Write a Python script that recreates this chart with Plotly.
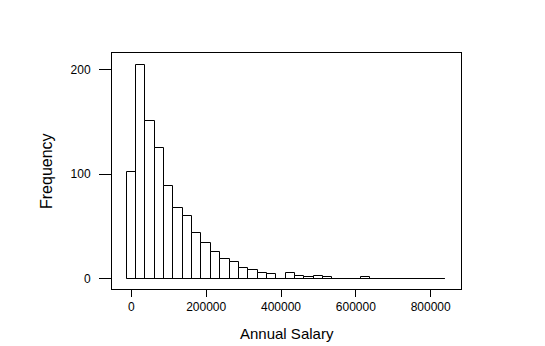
import plotly.graph_objects as go

# Histogram of annual salaries: bins of width 25000 centred on multiples of 25000
bin_width = 25000
bin_centers = [i * bin_width for i in range(34)]
counts = [102, 205, 151, 125, 89, 68, 60, 44, 34, 25,
          19, 16, 10, 8, 5, 4, 0, 5, 2, 1,
          2, 1, 0, 0, 0, 1, 0, 0, 0, 0,
          0, 0, 0, 0]
bin_edges = [c - bin_width / 2 for c in bin_centers] + [bin_centers[-1] + bin_width / 2]

x_tickvals = [0, 200000, 400000, 600000, 800000]
y_tickvals = [0, 100, 200]

FONT = "Liberation Sans, Arial, sans-serif"

fig = go.Figure()

# zero-count bins show as a line along the baseline
fig.add_trace(go.Scatter(
    x=[bin_edges[0], bin_edges[-1]], y=[0, 0],
    mode="lines", line=dict(color="black", width=1),
    hoverinfo="skip", showlegend=False,
))

fig.add_trace(go.Bar(
    x=bin_centers, y=counts, width=bin_width,
    marker=dict(color="white", line=dict(color="black", width=1)),
    showlegend=False,
))

fig.update_layout(
    width=545, height=346,
    margin=dict(l=112, r=84, t=53, b=57),
    paper_bgcolor="white", plot_bgcolor="white",
    font=dict(family=FONT, size=12, color="black"),
    bargap=0,
    xaxis=dict(
        range=[-51600, 881000],
        tickvals=x_tickvals,
        ticktext=[str(v) for v in x_tickvals],
        ticks="outside", ticklen=7, tickwidth=1, tickcolor="black",
        showline=True, linecolor="black", linewidth=1, mirror=True,
        showgrid=False, zeroline=False,
        tickfont=dict(size=12, family=FONT, color="black"),
    ),
    yaxis=dict(
        range=[-10.07, 216.3],
        tickvals=y_tickvals,
        ticktext=[str(v) for v in y_tickvals],
        ticks="outside", ticklen=12, tickwidth=1, tickcolor="black",
        ticklabelstandoff=6,
        showline=True, linecolor="black", linewidth=1, mirror=True,
        showgrid=False, zeroline=False,
        tickfont=dict(size=12, family=FONT, color="black"),
    ),
    annotations=[
        dict(text="Annual Salary", xref="paper", yref="paper",
             x=0.5, y=0, yanchor="middle", yshift=-44,
             showarrow=False, font=dict(size=15, family=FONT, color="black")),
        dict(text="Frequency", xref="paper", yref="paper",
             x=0, y=0.5, xanchor="center", xshift=-66, textangle=-90,
             showarrow=False, font=dict(size=16, family=FONT, color="black")),
    ],
)

fig.write_html("out.html")
